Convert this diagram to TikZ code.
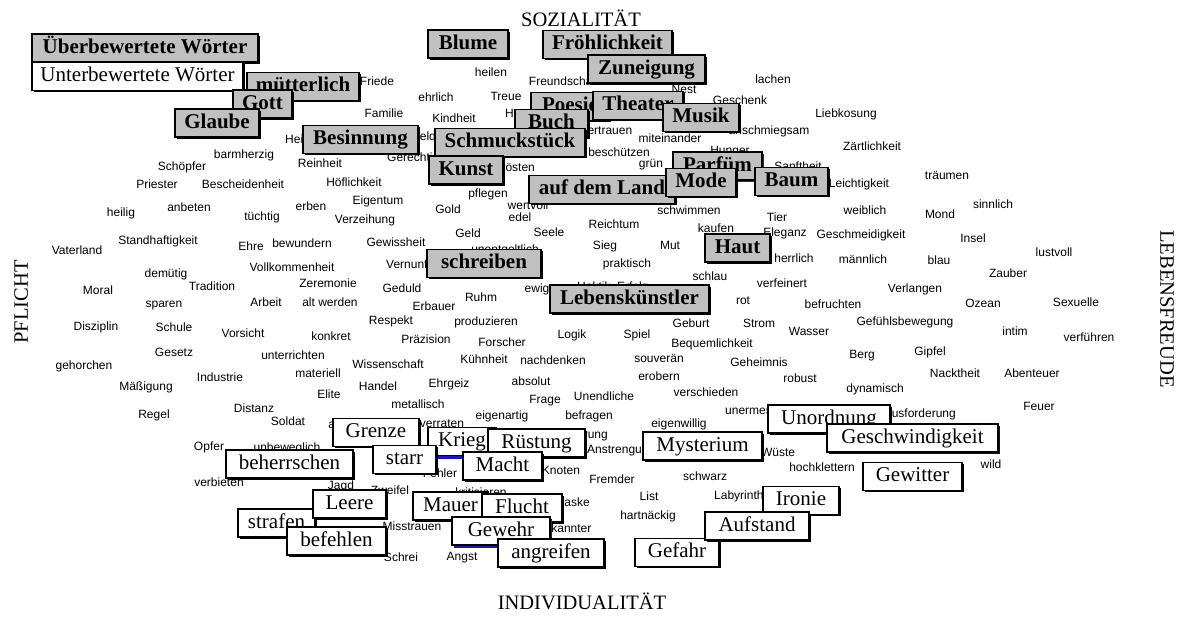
\documentclass[tikz,border=0pt]{standalone}
\usepackage{fontspec}
\setmainfont{Liberation Serif}
\newfontfamily\wordfont{Liberation Sans}
\usetikzlibrary{shadows}
\definecolor{boxgray}{RGB}{192,192,192}
\definecolor{shadeblue}{RGB}{20,20,200}
\definecolor{shadenavy}{RGB}{10,10,90}
\definecolor{shadered}{RGB}{110,20,20}

\tikzset{
  word/.style={font=\wordfont\fontsize{12}{14}\selectfont, inner sep=0pt, text height=8.8pt, text depth=2.5pt},
  boxbase/.style={draw=black, line width=1.6pt, minimum height=28pt, inner sep=0pt,
                  text height=14.5pt, text depth=4.5pt,
                  drop shadow={shadow xshift=1.6pt, shadow yshift=-1.6pt, fill=black, opacity=1}},
  gbox/.style={boxbase, fill=boxgray, font=\fontsize{21}{24}\selectfont\bfseries},
  wbox/.style={boxbase, fill=white, font=\fontsize{21}{24}\selectfont},
  axis/.style={font=\fontsize{20.5}{24}\selectfont, inner sep=0pt, text height=13.5pt, text depth=0pt},
}

\begin{document}
\begin{tikzpicture}[x=1pt, y=-1pt]
\useasboundingbox (0,0) rectangle (1181,616);
\fill[white] (0,0) rectangle (1181,616);

% axis labels
\node[axis] (soz) at (581,20) {SOZIALITÄT};
\node[axis] (ind) at (582,603) {INDIVIDUALITÄT};
\node[axis, rotate=90] (pfl) at (21,302) {PFLICHT};
\node[axis, rotate=-90] (leb) at (1167,309) {LEBENSFREUDE};

% the word field
\node[word] (w-friede) at (377,82) {Friede};
\node[word] (w-heilen) at (491,73) {heilen};
\node[word] (w-freundschaft) at (564,82) {Freundschaft};
\node[word] (w-lachen) at (773,80) {lachen};
\node[word] (w-ehrlich) at (436,98) {ehrlich};
\node[word] (w-treue) at (506,97) {Treue};
\node[word] (w-familie) at (384,114) {Familie};
\node[word] (w-kindheit) at (454,119) {Kindheit};
\node[word, anchor=west] (w-harmonie) at (505,114) {Harmonie};
\node[word] (w-liebkosung) at (846,114) {Liebkosung};
\node[word] (w-nest) at (684,90) {Nest};
\node[word] (w-geschenk) at (740,101) {Geschenk};
\node[word, anchor=west] (w-vertrauen) at (580,131) {Vertrauen};
\node[word] (w-anschmiegsam) at (769,131) {anschmiegsam};
\node[word] (w-miteinander) at (670,139) {miteinander};
\node[word] (w-zaertlichkeit) at (872,147) {Zärtlichkeit};
\node[word] (w-hunger) at (730,151) {Hunger};
\node[word] (w-beschuetzen) at (619,153) {beschützen};
\node[word] (w-gruen) at (651,164) {grün};
\node[word] (w-sanftheit) at (798,167) {Sanftheit};
\node[word] (w-leichtigkeit) at (859,184) {Leichtigkeit};
\node[word] (w-traeumen) at (947,176) {träumen};
\node[word] (w-sinnlich) at (993,205) {sinnlich};
\node[word] (w-mond) at (940,215) {Mond};
\node[word] (w-weiblich) at (865,211) {weiblich};
\node[word] (w-schwimmen) at (689,211) {schwimmen};
\node[word] (w-tier) at (777,218) {Tier};
\node[word] (w-reichtum) at (614,225) {Reichtum};
\node[word] (w-kaufen) at (716,229) {kaufen};
\node[word] (w-eleganz) at (785,233) {Eleganz};

\node[word, anchor=west] (w-heimat) at (285,140) {Heimat};
\node[word, anchor=west] (w-held) at (411,137) {Held};
\node[word] (w-barmherzig) at (244,155) {barmherzig};
\node[word] (w-schoepfer) at (182,167) {Schöpfer};
\node[word] (w-priester) at (157,185) {Priester};
\node[word] (w-bescheidenheit) at (243,185) {Bescheidenheit};
\node[word] (w-heilig) at (121,213) {heilig};
\node[word] (w-anbeten) at (189,208) {anbeten};
\node[word] (w-tuechtig) at (262,217) {tüchtig};
\node[word] (w-erben) at (311,207) {erben};
\node[word] (w-reinheit) at (320,164) {Reinheit};
\node[word, anchor=west] (w-gerechtigkeit) at (387,158) {Gerechtigkeit};
\node[word] (w-hoeflichkeit) at (354,183) {Höflichkeit};
\node[word] (w-eigentum) at (378,201) {Eigentum};
\node[word] (w-verzeihung) at (365,220) {Verzeihung};
\node[word] (w-gold) at (448,210) {Gold};
\node[word, anchor=west] (w-troesten) at (498,168) {trösten};
\node[word] (w-pflegen) at (488,194) {pflegen};
\node[word] (w-wertvoll) at (528,206) {wertvoll};
\node[word] (w-edel) at (520,218) {edel};

\node[word] (w-vaterland) at (77,251) {Vaterland};
\node[word] (w-standhaftigkeit) at (158,241) {Standhaftigkeit};
\node[word] (w-ehre) at (251,247) {Ehre};
\node[word] (w-bewundern) at (302,244) {bewundern};
\node[word] (w-gewissheit) at (396,243) {Gewissheit};
\node[word] (w-geld) at (468,234) {Geld};
\node[word] (w-seele) at (549,233) {Seele};
\node[word] (w-unentgeltlich) at (505,250) {unentgeltlich};
\node[word, anchor=west] (w-vernunft) at (386,265) {Vernunft};
\node[word] (w-sieg) at (605,246) {Sieg};
\node[word] (w-mut) at (670,246) {Mut};
\node[word] (w-geschmeidigkeit) at (861,235) {Geschmeidigkeit};
\node[word] (w-insel) at (973,239) {Insel};
\node[word] (w-lustvoll) at (1054,253) {lustvoll};
\node[word] (w-herrlich) at (794,259) {herrlich};
\node[word] (w-maennlich) at (863,260) {männlich};
\node[word] (w-blau) at (939,261) {blau};
\node[word] (w-praktisch) at (627,264) {praktisch};
\node[word] (w-vollkommenheit) at (292,268) {Vollkommenheit};
\node[word] (w-demuetig) at (166,274) {demütig};
\node[word] (w-zauber) at (1008,274) {Zauber};
\node[word] (w-schlau) at (710,277) {schlau};
\node[word] (w-zeremonie) at (328,284) {Zeremonie};
\node[word] (w-verfeinert) at (782,284) {verfeinert};
\node[word] (w-tradition) at (212,287) {Tradition};
\node[word] (w-geduld) at (402,289) {Geduld};
\node[word] (w-ewig) at (537,289) {ewig};
\node[word, anchor=west] (w-hektik) at (577,287) {Hektik};
\node[word, anchor=west] (w-erfolg) at (617,287) {Erfolg};
\node[word] (w-moral) at (98,291) {Moral};
\node[word] (w-verlangen) at (915,289) {Verlangen};
\node[word] (w-ruhm) at (481,298) {Ruhm};
\node[word] (w-rot) at (743,301) {rot};
\node[word] (w-arbeit) at (266,303) {Arbeit};
\node[word] (w-altwerden) at (330,303) {alt werden};
\node[word] (w-sparen) at (164,304) {sparen};
\node[word] (w-ozean) at (983,304) {Ozean};
\node[word] (w-sexuelle) at (1076,303) {Sexuelle};
\node[word] (w-befruchten) at (833,305) {befruchten};
\node[word] (w-erbauer) at (434,307) {Erbauer};
\node[word] (w-respekt) at (391,321) {Respekt};
\node[word] (w-produzieren) at (486,322) {produzieren};
\node[word] (w-geburt) at (691,324) {Geburt};
\node[word] (w-strom) at (759,324) {Strom};
\node[word] (w-gefuehlsbewegung) at (905,322) {Gefühlsbewegung};
\node[word] (w-disziplin) at (96,327) {Disziplin};
\node[word] (w-schule) at (174,328) {Schule};
\node[word] (w-vorsicht) at (243,334) {Vorsicht};
\node[word] (w-wasser) at (809,332) {Wasser};
\node[word] (w-intim) at (1015,332) {intim};
\node[word] (w-logik) at (572,335) {Logik};
\node[word] (w-spiel) at (637,335) {Spiel};
\node[word] (w-konkret) at (331,337) {konkret};
\node[word] (w-verfuehren) at (1089,338) {verführen};
\node[word] (w-praezision) at (426,340) {Präzision};
\node[word] (w-forscher) at (502,343) {Forscher};
\node[word] (w-bequemlichkeit) at (712,344) {Bequemlichkeit};
\node[word] (w-gipfel) at (930,352) {Gipfel};
\node[word] (w-gesetz) at (174,353) {Gesetz};
\node[word] (w-berg) at (862,355) {Berg};
\node[word] (w-unterrichten) at (293,356) {unterrichten};
\node[word] (w-souveraen) at (659,359) {souverän};
\node[word] (w-kuehnheit) at (484,360) {Kühnheit};
\node[word] (w-nachdenken) at (553,361) {nachdenken};
\node[word] (w-geheimnis) at (759,363) {Geheimnis};
\node[word] (w-wissenschaft) at (388,365) {Wissenschaft};
\node[word] (w-gehorchen) at (84,366) {gehorchen};
\node[word] (w-materiell) at (318,374) {materiell};
\node[word] (w-nacktheit) at (955,374) {Nacktheit};
\node[word] (w-abenteuer) at (1032,374) {Abenteuer};
\node[word] (w-erobern) at (659,377) {erobern};
\node[word] (w-industrie) at (220,378) {Industrie};
\node[word] (w-robust) at (800,379) {robust};
\node[word] (w-absolut) at (531,382) {absolut};
\node[word] (w-ehrgeiz) at (449,384) {Ehrgeiz};
\node[word] (w-maessigung) at (146,387) {Mäßigung};
\node[word] (w-handel) at (378,387) {Handel};
\node[word] (w-dynamisch) at (875,389) {dynamisch};
\node[word] (w-verschieden) at (706,393) {verschieden};
\node[word] (w-elite) at (329,395) {Elite};
\node[word] (w-unendliche) at (604,397) {Unendliche};
\node[word] (w-frage) at (545,400) {Frage};
\node[word] (w-metallisch) at (418,405) {metallisch};
\node[word] (w-feuer) at (1039,407) {Feuer};
\node[word] (w-distanz) at (254,409) {Distanz};
\node[word] (w-regel) at (154,415) {Regel};
\node[word] (w-eigenartig) at (502,416) {eigenartig};
\node[word] (w-befragen) at (589,416) {befragen};
\node[word] (w-soldat) at (288,422) {Soldat};
\node[word] (w-abhaengig) at (353,425) {abhängig};
\node[word] (w-verraten) at (442,424) {verraten};
\node[word] (w-eigenwillig) at (679,424) {eigenwillig};
\node[word, anchor=west] (w-unermesslich) at (725,411) {unermesslich};
\node[word, anchor=east] (w-herausforderung) at (956,414) {Herausforderung};
\node[word, anchor=east] (w-zerstoerung) at (608,435) {Zerstörung};
\node[word, anchor=west] (w-anstrengung) at (587,450) {Anstrengung};
\node[word] (w-opfer) at (209,447) {Opfer};
\node[word] (w-unbeweglich) at (287,448) {unbeweglich};
\node[word] (w-wueste) at (778,453) {Wüste};
\node[word] (w-hochklettern) at (822,468) {hochklettern};
\node[word] (w-wild) at (991,465) {wild};
\node[word] (w-knoten) at (561,471) {Knoten};
\node[word] (w-fehler) at (440,474) {Fehler};
\node[word] (w-fremder) at (612,480) {Fremder};
\node[word] (w-schwarz) at (705,477) {schwarz};
\node[word] (w-verbieten) at (219,483) {verbieten};
\node[word] (w-jagd) at (341,486) {Jagd};
\node[word] (w-zweifel) at (390,491) {Zweifel};
\node[word] (w-kritisieren) at (481,493) {kritisieren};
\node[word] (w-list) at (649,497) {List};
\node[word, anchor=west] (w-labyrinth) at (714,496) {Labyrinth};
\node[word] (w-maske) at (572,503) {Maske};
\node[word] (w-hartnaeckig) at (648,516) {hartnäckig};
\node[word] (w-misstrauen) at (412,527) {Misstrauen};
\node[word] (w-bekannter) at (564,529) {Bekannter};
\node[word] (w-schrei) at (401,558) {Schrei};
\node[word] (w-angst) at (462,557) {Angst};

% over-valued words (grey, bold)
\node[gbox, minimum width=226pt] (b-ueber) at (145,48) {Überbewertete Wörter};
\node[wbox, minimum width=211pt] (b-unter) at (137.5,76.5) {Unterbewertete Wörter};
\node[gbox, minimum width=112pt] (b-muetterlich) at (303,86.5) {mütterlich};
\node[gbox, minimum width=59pt] (b-gott) at (262.5,104) {Gott};
\node[gbox, minimum width=84pt] (b-glaube) at (217,123) {Glaube};
\node[gbox, minimum width=80pt] (b-blume) at (468,44) {Blume};
\node[gbox, minimum width=129pt] (b-froehlichkeit) at (607.5,44.5) {Fröhlichkeit};
\node[gbox, minimum width=117pt] (b-zuneigung) at (646.5,69) {Zuneigung};
\node[gbox, minimum width=78pt] (b-poesie) at (570,106.5) {Poesie};
\node[gbox, minimum width=90pt] (b-theater) at (638,105.5) {Theater};
\node[gbox, minimum width=76pt] (b-musik) at (701,117.5) {Musik};
\node[gbox, minimum width=73pt] (b-buch) at (551.5,123.5) {Buch};
\node[gbox, minimum width=150pt] (b-schmuck) at (510,142.5) {Schmuckstück};
\node[gbox, minimum width=115pt] (b-besinnung) at (360.5,139.5) {Besinnung};
\node[gbox, minimum width=74pt] (b-kunst) at (466,170) {Kunst};
\node[gbox, minimum width=146pt] (b-land) at (602,189.5) {auf dem Land};
\node[gbox, minimum width=89pt, drop shadow={shadow xshift=1.6pt, shadow yshift=-1.8pt, fill=shadered, opacity=1}] (b-parfuem) at (717.5,166) {Parfüm};
\node[gbox, minimum width=70pt] (b-mode) at (701,182.5) {Mode};
\node[gbox, minimum width=73pt] (b-baum) at (791.5,181.5) {Baum};
\node[gbox, minimum width=65pt] (b-haut) at (737.5,248) {Haut};
\node[gbox, minimum width=114pt] (b-schreiben) at (484,263.5) {schreiben};
\node[gbox, minimum width=159pt] (b-lebenskuenstler) at (629.5,299) {Lebenskünstler};

% under-valued words (white)
\node[wbox, minimum width=86pt] (b-grenze) at (376,432.5) {Grenze};
\node[wbox, minimum width=68pt, drop shadow={shadow xshift=2pt, shadow yshift=-3pt, fill=shadeblue, opacity=1}] (b-krieg) at (462,441.5) {Krieg};
\node[wbox, minimum width=97pt] (b-ruestung) at (536.5,443) {Rüstung};
\node[wbox, minimum width=127pt] (b-beherrschen) at (289.5,464) {beherrschen};
\node[wbox, minimum width=63pt] (b-starr) at (404.5,459.5) {starr};
\node[wbox, minimum width=79pt] (b-macht) at (502.5,466) {Macht};
\node[wbox, minimum width=119pt] (b-mysterium) at (702.5,446) {Mysterium};
\node[wbox, minimum width=122pt] (b-unordnung) at (829,419) {Unordnung};
\node[wbox, minimum width=171pt, drop shadow={shadow xshift=2pt, shadow yshift=-1.6pt, fill=shadenavy, opacity=1}] (b-geschwindigkeit) at (912.5,438) {Geschwindigkeit};
\node[wbox, minimum width=99pt] (b-gewitter) at (912.5,476.5) {Gewitter};
\node[wbox, minimum width=77pt] (b-strafen) at (276.5,523) {strafen};
\node[wbox, minimum width=73pt] (b-leere) at (349.5,504) {Leere};
\node[wbox, minimum width=99pt] (b-befehlen) at (336.5,541) {befehlen};
\node[wbox, minimum width=75pt] (b-mauer) at (450.5,506) {Mauer};
\node[wbox, minimum width=80pt] (b-flucht) at (522,508) {Flucht};
\node[wbox, minimum width=98pt, drop shadow={shadow xshift=2pt, shadow yshift=-3pt, fill=shadeblue, opacity=1}] (b-gewehr) at (501,531) {Gewehr};
\node[wbox, minimum width=106pt] (b-angreifen) at (551,553) {angreifen};
\node[wbox, minimum width=84pt] (b-gefahr) at (677,552.5) {Gefahr};
\node[wbox, minimum width=76pt] (b-ironie) at (801,500.5) {Ironie};
\node[wbox, minimum width=104pt] (b-aufstand) at (757,526) {Aufstand};
\end{tikzpicture}
\end{document}
